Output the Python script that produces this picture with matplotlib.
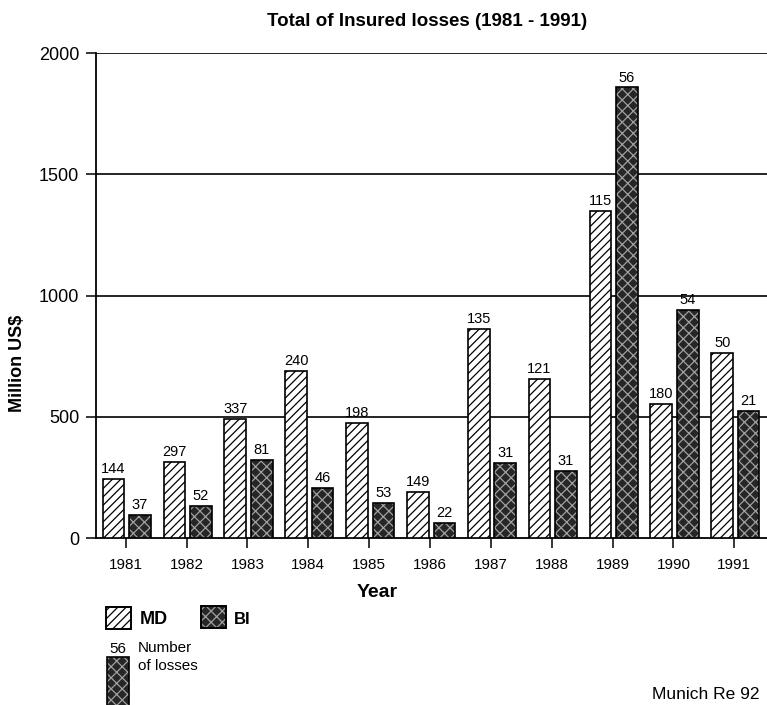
import matplotlib
matplotlib.use("Agg")
import matplotlib.pyplot as plt
from matplotlib.patches import Rectangle

plt.rcParams['font.family'] = ['Liberation Sans', 'DejaVu Sans']
plt.rcParams['hatch.linewidth'] = 0.9

# Insured losses per year, million US$
years = [1981, 1982, 1983, 1984, 1985, 1986, 1987, 1988, 1989, 1990, 1991]
md_losses = [245, 313, 490, 691, 476, 191, 862, 656, 1350, 555, 765]
bi_losses = [95, 135, 322, 207, 145, 63, 311, 279, 1858, 940, 524]
# Number of loss events per year
md_counts = [144, 297, 337, 240, 198, 149, 135, 121, 115, 180, 50]
bi_counts = [37, 52, 81, 46, 53, 22, 31, 31, 56, 54, 21]
y_ticks = [0, 500, 1000, 1500, 2000]

W, H = 767, 705
fig = plt.figure(figsize=(W / 100, H / 100), dpi=100)
ax = fig.add_axes([96 / W, 1 - 538.3 / H, (W - 96) / W, (538.3 - 53) / H])

bw = 0.355
md_off, bi_off = -0.2, 0.235
md_x = [y + md_off for y in years]
bi_x = [y + bi_off for y in years]

# hatched fills
ax.bar(md_x, md_losses, width=bw, color='white', edgecolor='black',
       hatch='////', linewidth=0, zorder=3)
ax.bar(bi_x, bi_losses, width=bw, color='#262626', edgecolor='#a0a0a0',
       hatch='xxx', linewidth=0, zorder=3)
# outlines
ax.bar(md_x, md_losses, width=bw, fill=False, edgecolor='black',
       linewidth=1.2, zorder=4)
ax.bar(bi_x, bi_losses, width=bw, fill=False, edgecolor='black',
       linewidth=1.2, zorder=4)

for x, v, n in zip(md_x, md_losses, md_counts):
    ax.text(x, v + 12, str(n), ha='center', va='bottom', fontsize=10.5, zorder=5)
for x, v, n in zip(bi_x, bi_losses, bi_counts):
    ax.text(x, v + 12, str(n), ha='center', va='bottom', fontsize=10.5, zorder=5)

ax.set_xlim(1980.512, 1991.537)
ax.set_ylim(0, 2000)
ax.set_xticks(years)
ax.set_xticklabels([str(y) for y in years], fontsize=11)
ax.set_yticks(y_ticks)
ax.set_yticklabels([str(v) for v in y_ticks], fontsize=13)
ax.tick_params(axis='x', direction='out', length=7.5, width=1.1, pad=7)
ax.tick_params(axis='y', direction='out', length=7, width=1.1, pad=5)

for v in y_ticks[1:]:
    ax.axhline(v, color='black', linewidth=1.2, zorder=2)

ax.spines['right'].set_visible(False)
ax.spines['top'].set_visible(False)
for s in ('left', 'bottom'):
    ax.spines[s].set_linewidth(1.3)

ax.set_xlabel('Year', fontsize=14, fontweight='bold')
ax.xaxis.set_label_coords((377.5 - 96) / (W - 96), -(592.7 - 538.3) / (538.3 - 53))
ax.xaxis.label.set_va('center')
ax.set_ylabel('Million US$', fontsize=13, fontweight='bold')
ax.yaxis.set_label_coords(-(96 - 17) / (W - 96), (538.3 - 363) / (538.3 - 53))
ax.yaxis.label.set_va('center')
fig.text(427 / W, 1 - 21 / H, 'Total of Insured losses (1981 - 1991)',
         ha='center', va='center', fontsize=13.5, fontweight='bold')


def px_rect(x0, y0, x1, y1, **kw):
    fig.add_artist(Rectangle((x0 / W, 1 - y1 / H), (x1 - x0) / W, (y1 - y0) / H,
                             transform=fig.transFigure, **kw))


# legend
px_rect(106, 607, 130.7, 629, facecolor='white', edgecolor='black', hatch='////', linewidth=0)
px_rect(106, 607, 130.7, 629, fill=False, edgecolor='black', linewidth=1.4)
fig.text(140 / W, 1 - 619 / H, 'MD', ha='left', va='center', fontsize=13, fontweight='bold')
px_rect(200.7, 606, 225.7, 628, facecolor='#262626', edgecolor='#a0a0a0', hatch='xxx', linewidth=0)
px_rect(200.7, 606, 225.7, 628, fill=False, edgecolor='black', linewidth=1.4)
fig.text(234 / W, 1 - 619 / H, 'BI', ha='left', va='center', fontsize=12, fontweight='bold')

fig.text(118 / W, 1 - 649 / H, '56', ha='center', va='center', fontsize=11)
fig.text(138 / W, 1 - 648 / H, 'Number', ha='left', va='center', fontsize=11)
fig.text(138 / W, 1 - 666 / H, 'of losses', ha='left', va='center', fontsize=11)
px_rect(106.7, 657, 129.3, 706, facecolor='#262626', edgecolor='#a0a0a0', hatch='xxx', linewidth=0)
px_rect(106.7, 657, 129.3, 706, fill=False, edgecolor='black', linewidth=1.2)

fig.text(652 / W, 1 - 702 / H, 'Munich Re 92', ha='left', va='bottom', fontsize=12.5)

fig.savefig('out.png', dpi=100)
